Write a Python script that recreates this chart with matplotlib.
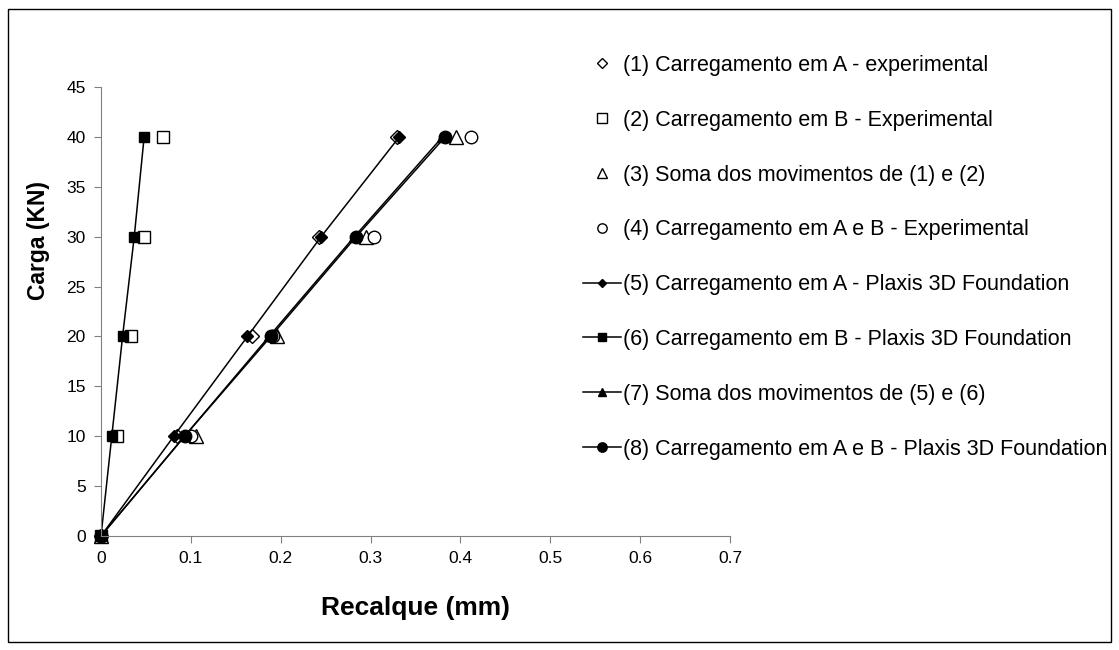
import matplotlib
matplotlib.use("Agg")
import matplotlib.pyplot as plt
from matplotlib.patches import Rectangle

# cargas (kN)
carga = [0, 10, 20, 30, 40]

# recalques (mm)
exp_a = [0, 0.085, 0.168, 0.243, 0.329]       # (1)
exp_b = [0, 0.0175, 0.033, 0.048, 0.069]      # (2)
soma_exp = [0, 0.106, 0.196, 0.295, 0.395]    # (3)
exp_ab = [0, 0.100, 0.191, 0.304, 0.412]      # (4)
plx_a = [0, 0.081, 0.163, 0.245, 0.332]       # (5)
plx_b = [0, 0.012, 0.024, 0.037, 0.048]       # (6)
soma_plx = [0, 0.093, 0.187, 0.282, 0.380]    # (7)
plx_ab = [0, 0.093, 0.189, 0.284, 0.383]      # (8)

labels = [
    "(1) Carregamento em A - experimental",
    "(2) Carregamento em B - Experimental",
    "(3) Soma dos movimentos de (1) e (2)",
    "(4) Carregamento em A e B - Experimental",
    "(5) Carregamento em A - Plaxis 3D Foundation",
    "(6) Carregamento em B - Plaxis 3D Foundation",
    "(7) Soma dos movimentos de (5) e (6)",
    "(8) Carregamento em A e B - Plaxis 3D Foundation",
]

plt.rcParams["font.family"] = ["Liberation Sans", "DejaVu Sans"]
plt.rcParams["font.size"] = 12

W, H = 1119, 650
fig = plt.figure(figsize=(W / 100, H / 100), dpi=100)
ax = fig.add_axes([101 / W, 1 - 536 / H, (730 - 101) / W, (536 - 87) / H])

# borda externa do grafico
fig.patches.append(Rectangle((8 / W, 1 - 642 / H), (1111 - 8) / W, (642 - 9) / H,
                             transform=fig.transFigure, fill=False,
                             edgecolor="black", linewidth=1.0))

open_kw = dict(ls="none", mfc="white", mec="black", mew=1.0, clip_on=False)
h1, = ax.plot(exp_a, carga, marker="D", ms=7, label=labels[0], **open_kw)
h2, = ax.plot(exp_b, carga, marker="s", ms=9, label=labels[1], **open_kw)
h3, = ax.plot(soma_exp, carga, marker="^", ms=10, label=labels[2], **open_kw)
h4, = ax.plot(exp_ab, carga, marker="o", ms=9, label=labels[3], **open_kw)

line_kw = dict(color="black", lw=1.1, mfc="black", mec="black", clip_on=False)
h5, = ax.plot(plx_a, carga, marker="D", ms=6, label=labels[4], **line_kw)
h6, = ax.plot(plx_b, carga, marker="s", ms=7, label=labels[5], **line_kw)
h7, = ax.plot(soma_plx, carga, marker="^", ms=7, label=labels[6], **line_kw)
h8, = ax.plot(plx_ab, carga, marker="o", ms=9, label=labels[7], **line_kw)

ax.set_xlim(0, 0.7)
ax.set_ylim(0, 45)
ax.set_xticks([0, 0.1, 0.2, 0.3, 0.4, 0.5, 0.6, 0.7])
ax.set_xticklabels(["0", "0.1", "0.2", "0.3", "0.4", "0.5", "0.6", "0.7"])
ax.set_yticks(range(0, 50, 5))

for s in ["top", "right"]:
    ax.spines[s].set_visible(False)
for s in ["left", "bottom"]:
    ax.spines[s].set_color("#808080")
ax.tick_params(color="#808080", length=5, labelsize=12.5, pad=6)

ax.set_xlabel("Recalque (mm)", fontsize=19, fontweight="bold")
ax.set_ylabel("Carga (KN)", fontsize=16.5, fontweight="bold")
ax.xaxis.set_label_coords(0.5, -(596 - 536) / (536 - 87))
ax.yaxis.set_label_coords(-(101 - 50) / (730 - 101), (536 - 241) / (536 - 87))

fig.legend(handles=[h1, h2, h3, h4, h5, h6, h7, h8],
           loc="upper left", bbox_to_anchor=(583 / W, 1 - 55 / H),
           frameon=False, fontsize=15.5, markerscale=0.75,
           borderaxespad=0, borderpad=0,
           handlelength=1.75, handletextpad=0.12, labelspacing=1.57)

fig.savefig("out.png", dpi=100)
